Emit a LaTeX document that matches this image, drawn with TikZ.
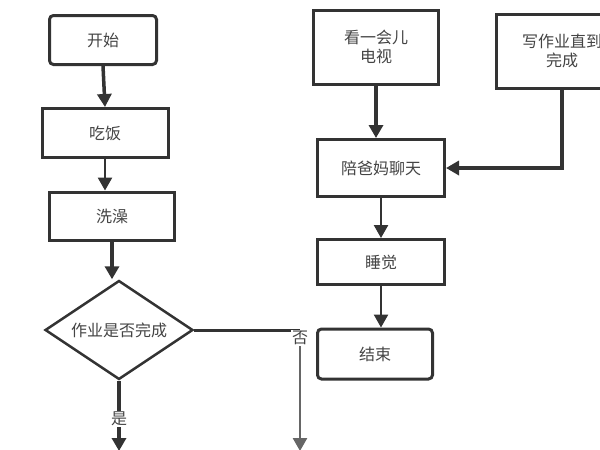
\documentclass[tikz,border=0pt]{standalone}
\usepackage{fontspec}
\newfontfamily\cjk{Noto Sans CJK SC}
\usetikzlibrary{arrows.meta,shapes.geometric}
\definecolor{ink}{HTML}{333333}
\definecolor{txt}{HTML}{444444}
\tikzset{
  box/.style={draw=ink, line width=3pt, rectangle, inner sep=0pt, text=txt, font=\cjk\fontsize{16}{19}\selectfont, align=center},
  rbox/.style={box, rounded corners=4pt},
  dec/.style={draw=ink, line width=2.5pt, diamond, aspect=1.5, inner sep=0pt, text=txt, font=\cjk\fontsize{16}{19}\selectfont},
  line/.style={draw=ink, line width=3.5pt},
  conn/.style={line, -{Triangle[width=14pt,length=13pt]}},
  lbl/.style={fill=white, inner sep=1pt, text=txt, font=\cjk\fontsize{16}{19}\selectfont}
}
\begin{document}
\begin{tikzpicture}[x=1pt,y=-1pt]
\clip (0,0) rectangle (600,450);
\fill[white] (0,0) rectangle (600,450);
\node[rbox, minimum width=107pt, minimum height=49pt] (start) at (103,40) {开始};
\node[box, minimum width=126pt, minimum height=49pt] (eat) at (105,133) {吃饭};
\node[box, minimum width=125pt, minimum height=48pt] (bath) at (112,216) {洗澡};
\node[dec, minimum width=148pt, minimum height=99pt] (hw) at (119,330) {作业是否完成};
\coordinate (yesend) at (119,451);
\coordinate (nocorner) at (300,330);
\coordinate (noend) at (300,451);

\node[box, minimum width=125pt, minimum height=74pt] (tv) at (376,47) {看一会儿\\电视};
\node[box, minimum width=132pt, minimum height=74pt] (write) at (562,51) {写作业直到\\完成};
\node[box, minimum width=127pt, minimum height=57pt] (chat) at (381,168) {陪爸妈聊天};
\node[box, minimum width=127pt, minimum height=45pt] (sleep) at (381,262) {睡觉};
\node[rbox, minimum width=115pt, minimum height=50pt] (end) at (375,354) {结束};

\draw[conn] (start.south) -- (eat.north);
\draw[conn, line width=2.5pt] (eat.south) -- (eat.south |- bath.north);
\draw[conn] (bath.south) -- (bath.south |- hw.north);
\draw[conn] (hw.south) -- (yesend);
\node[lbl] (yes) at (119,419) {是};
\draw[line, line width=3pt] (hw.east) -- (nocorner);
\draw[conn, draw=ink!75, fill=ink!75, line width=2.5pt] (nocorner) -- (noend);
\node[lbl] (no) at (300,338) {否};

\draw[conn] (tv.south) -- (tv.south |- chat.north);
\draw[conn] (write.south) |- (chat.east);
\draw[conn, line width=2.5pt] (chat.south) -- (sleep.north);
\draw[conn, line width=2.5pt] (sleep.south) -- (sleep.south |- end.north);
\end{tikzpicture}
\end{document}
